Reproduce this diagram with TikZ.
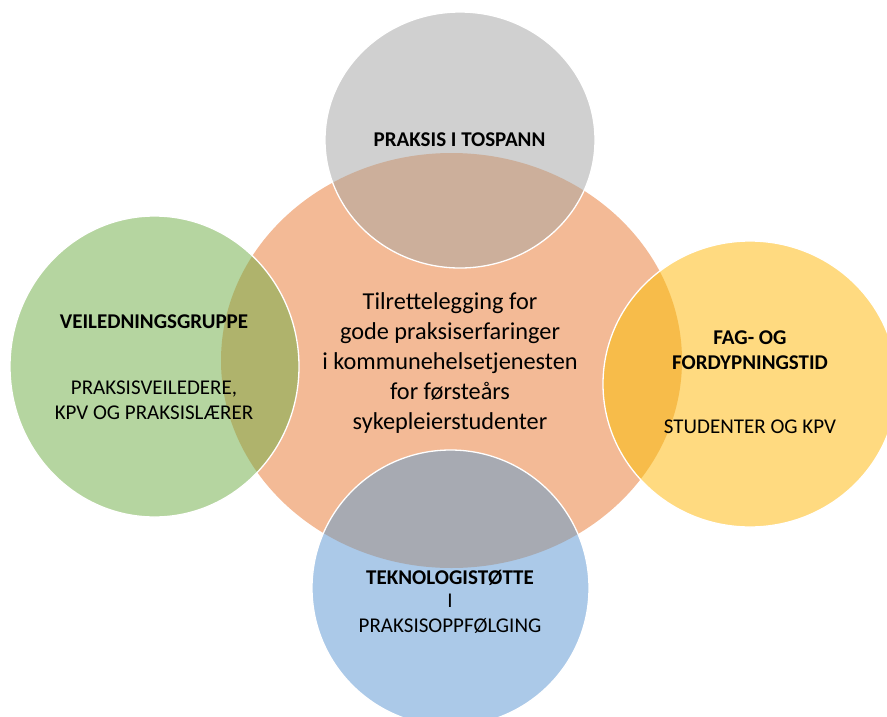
\documentclass[tikz,border=0pt]{standalone}
\usepackage{fontspec}
\setmainfont{Carlito}
\definecolor{corange}{HTML}{F3BA96}
\definecolor{cgray}{HTML}{D0D0D0}
\definecolor{cgreen}{HTML}{B5D5A0}
\definecolor{cyellow}{HTML}{FFDA80}
\definecolor{cblue}{HTML}{ABC9E8}
\definecolor{ogray}{HTML}{CCAF9B}
\definecolor{ogreen}{HTML}{AFB36C}
\definecolor{oyellow}{HTML}{F7BC4A}
\definecolor{oblue}{HTML}{A7AAB2}
\tikzset{
  rim/.style={draw=white, line width=1.3pt},
  lbl/.style={align=center, text=black, font=\fontsize{21}{24.5}\selectfont, inner sep=0pt},
  blbl/.style={lbl, font=\fontsize{21}{24.5}\selectfont\bfseries},
  mainlbl/.style={align=center, text=black, font=\fontsize{24.3}{30.2}\selectfont, inner sep=0pt}
}
\begin{document}
\begin{tikzpicture}[x=1pt,y=-1pt]
\useasboundingbox (0,0) rectangle (887,716);
\coordinate (cO) at (451.5,360.5);
\coordinate (cT) at (460,140);
\coordinate (cL) at (154.5,366.5);
\coordinate (cR) at (750,384);
\coordinate (cB) at (450.5,588);
% central ellipse
\fill[corange] (cO) ellipse [x radius=230.5, y radius=207.5];
% satellites
\fill[cgray]   (cT) ellipse [x radius=135, y radius=128];
\fill[cgreen]  (cL) ellipse [x radius=144.5, y radius=150.5];
\fill[cyellow] (cR) ellipse [x radius=147, y radius=143];
\fill[cblue]   (cB) ellipse [x radius=138.5, y radius=138];
% overlaps
\begin{scope}
  \clip (cO) ellipse [x radius=230.5, y radius=207.5];
  \fill[ogray]   (cT) ellipse [x radius=135, y radius=128];
  \fill[ogreen]  (cL) ellipse [x radius=144.5, y radius=150.5];
  \fill[oyellow] (cR) ellipse [x radius=147, y radius=143];
  \fill[oblue]   (cB) ellipse [x radius=138.5, y radius=138];
\end{scope}
% white rims
\draw[rim] (cT) ellipse [x radius=135, y radius=128];
\draw[rim] (cL) ellipse [x radius=144.5, y radius=150.5];
\draw[rim] (cR) ellipse [x radius=147, y radius=143];
\draw[rim] (cB) ellipse [x radius=138.5, y radius=138];
% texts
\node[mainlbl] (tmain) at (450,363) {Tilrettelegging for\\gode praksiserfaringer\\i kommunehelsetjenesten\\for førsteårs\\sykepleierstudenter};
\node[blbl] (ttop) at (459.5,140) {PRAKSIS I TOSPANN};
\node[blbl] (tleft1) at (154,322) {VEILEDNINGSGRUPPE};
\node[lbl] (tleft2) at (154,400) {PRAKSISVEILEDERE,\\KPV OG PRAKSISLÆRER};
\node[blbl] (tright1) at (750,350) {FAG- OG\\FORDYPNINGSTID};
\node[lbl] (tright2) at (750,427) {STUDENTER OG KPV};
\node[blbl] (tbot1) at (450,578) {TEKNOLOGISTØTTE};
\node[lbl] (tbot2) at (450,614) {I\\PRAKSISOPPFØLGING};
\end{tikzpicture}
\end{document}
